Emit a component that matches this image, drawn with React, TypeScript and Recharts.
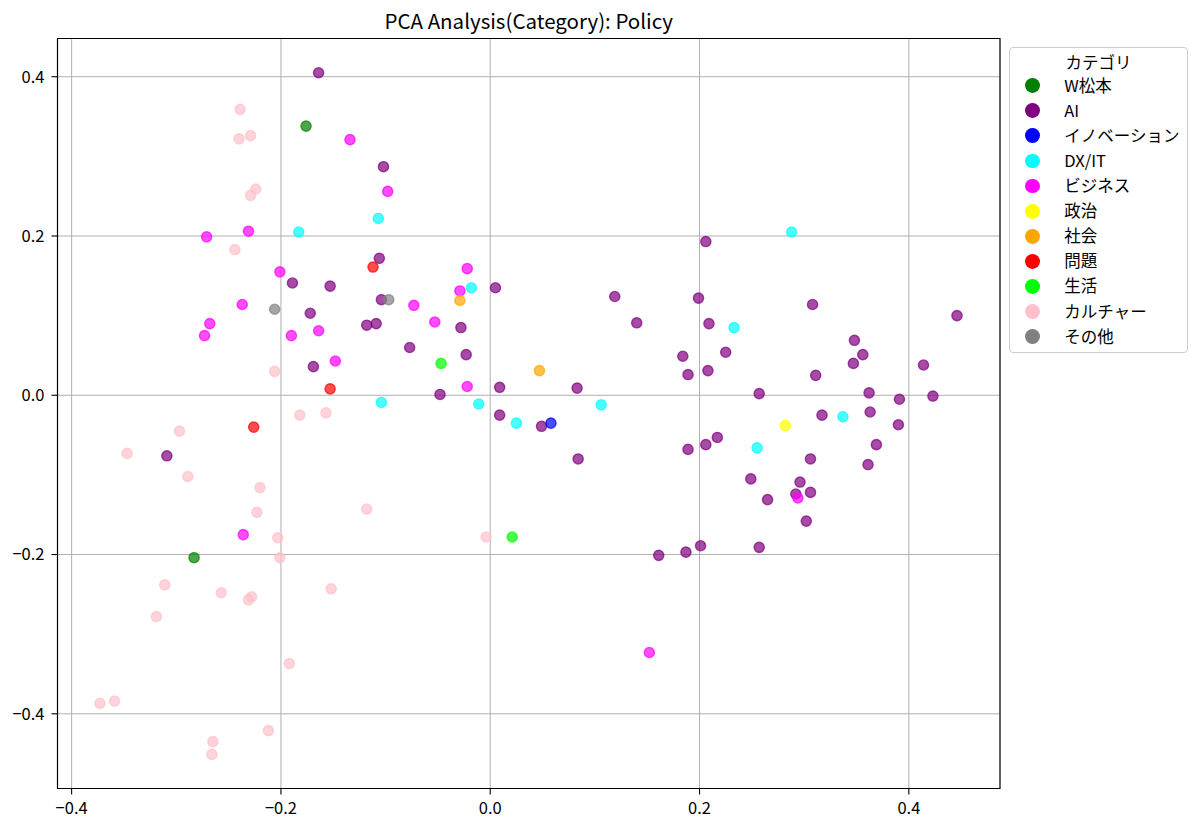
import React from "react";
import {
  ScatterChart,
  Scatter,
  XAxis,
  YAxis,
  CartesianGrid,
  ReferenceArea,
} from "recharts";

const FONT = '"Noto Sans CJK JP", "Noto Sans", sans-serif';

const categories = [
  "W松本",
  "AI",
  "イノベーション",
  "DX/IT",
  "ビジネス",
  "政治",
  "社会",
  "問題",
  "生活",
  "カルチャー",
  "その他",
];

const colors = [
  "#008000",
  "#800080",
  "#0000ff",
  "#00ffff",
  "#ff00ff",
  "#ffff00",
  "#ffa500",
  "#ff0000",
  "#00ff00",
  "#ffc0cb",
  "#808080",
];

const wMatsumoto: [number, number][] = [
  [-0.176, 0.338],
  [-0.283, -0.204],
];

const ai: [number, number][] = [
  [-0.164, 0.405], [-0.102, 0.287], [-0.106, 0.172], [-0.104, 0.12], [-0.109, 0.09],
  [-0.118, 0.088], [-0.153, 0.137], [-0.189, 0.141], [-0.172, 0.103], [-0.169, 0.036],
  [-0.077, 0.06], [-0.028, 0.085], [-0.023, 0.051], [-0.048, 0.001], [0.005, 0.135],
  [0.009, 0.01], [0.009, -0.025], [0.049, -0.039], [0.083, 0.009], [0.119, 0.124],
  [0.084, -0.08], [0.14, 0.091], [0.184, 0.049], [0.189, 0.026], [0.199, 0.122],
  [0.206, 0.193], [0.209, 0.09], [0.208, 0.031], [0.225, 0.054], [0.217, -0.053],
  [0.206, -0.062], [0.189, -0.068], [0.201, -0.189], [0.187, -0.197], [0.161, -0.201],
  [0.257, 0.002], [0.249, -0.105], [0.265, -0.131], [0.257, -0.191], [0.292, -0.124],
  [0.296, -0.109], [0.306, -0.122], [0.302, -0.158], [0.306, -0.08], [0.308, 0.114],
  [0.311, 0.025], [0.317, -0.025], [0.348, 0.069], [0.356, 0.051], [0.347, 0.04],
  [0.362, 0.003], [0.363, -0.021], [0.361, -0.087], [0.369, -0.062], [0.391, -0.005],
  [0.39, -0.037], [0.414, 0.038], [0.423, -0.001], [0.446, 0.1], [-0.309, -0.076],
];

const innovation: [number, number][] = [[0.058, -0.035]];

const dxit: [number, number][] = [
  [-0.107, 0.222], [-0.183, 0.205], [-0.018, 0.135], [-0.104, -0.009], [-0.011, -0.011],
  [0.025, -0.035], [0.106, -0.012], [0.233, 0.085], [0.288, 0.205], [0.255, -0.066],
  [0.337, -0.027],
];

const business: [number, number][] = [
  [-0.134, 0.321], [-0.098, 0.256], [-0.271, 0.199], [-0.231, 0.206], [-0.201, 0.155],
  [-0.022, 0.159], [-0.029, 0.131], [-0.237, 0.114], [-0.268, 0.09], [-0.273, 0.075],
  [-0.19, 0.075], [-0.164, 0.081], [-0.073, 0.113], [-0.053, 0.092], [-0.148, 0.043],
  [-0.022, 0.011], [-0.236, -0.175], [0.152, -0.323], [0.294, -0.129],
];

const politics: [number, number][] = [[0.282, -0.038]];

const society: [number, number][] = [
  [-0.029, 0.119],
  [0.047, 0.031],
];

const problems: [number, number][] = [
  [-0.112, 0.161],
  [-0.153, 0.008],
  [-0.226, -0.04],
];

const life: [number, number][] = [
  [-0.047, 0.04],
  [0.021, -0.178],
];

const culture: [number, number][] = [
  [-0.239, 0.359], [-0.24, 0.322], [-0.229, 0.326], [-0.224, 0.259], [-0.229, 0.251],
  [-0.244, 0.183], [-0.206, 0.03], [-0.182, -0.025], [-0.157, -0.022], [-0.297, -0.045],
  [-0.347, -0.073], [-0.289, -0.102], [-0.22, -0.116], [-0.223, -0.147], [-0.118, -0.143],
  [-0.203, -0.179], [-0.201, -0.204], [-0.004, -0.178], [-0.311, -0.238], [-0.257, -0.248],
  [-0.228, -0.253], [-0.231, -0.257], [-0.152, -0.243], [-0.319, -0.278], [-0.192, -0.337],
  [-0.373, -0.387], [-0.359, -0.384], [-0.212, -0.421], [-0.265, -0.435], [-0.266, -0.451],
];

const others: [number, number][] = [
  [-0.206, 0.108],
  [-0.097, 0.12],
];

const seriesPoints = [
  wMatsumoto, ai, innovation, dxit, business, politics, society, problems, life, culture, others,
];

const xDomain: [number, number] = [-0.4135, 0.4871];
const yDomain: [number, number] = [-0.4938, 0.448];
const xTicks = [-0.4, -0.2, 0.0, 0.2, 0.4];
const yTicks = [-0.4, -0.2, 0.0, 0.2, 0.4];

const fmt = (v: number) => {
  const s = Math.abs(v).toFixed(1);
  return v < -1e-9 ? "\u2212" + s : s;
};

const makeDot = (color: string) => (props: any) => {
  const { cx, cy } = props;
  if (cx == null || cy == null) return <g />;
  return (
    <circle
      cx={cx}
      cy={cy}
      r={5.1}
      fill={color}
      fillOpacity={0.7}
      stroke={color}
      strokeOpacity={0.7}
      strokeWidth={1.4}
    />
  );
};

const tickStyle = { fill: "#000", fontSize: 16.5, fontFamily: FONT };

export default function App() {
  const seriesData = seriesPoints.map((pts) => pts.map(([x, y]) => ({ x, y })));
  return (
    <div style={{ position: "relative", width: 1192, height: 813, fontFamily: FONT }}>
      <div
        style={{
          position: "absolute",
          left: 220.75,
          width: 600,
          top: 2.3,
          textAlign: "center",
          fontSize: 20.5,
          lineHeight: "20.5px",
          color: "#000",
          whiteSpace: "nowrap",
        }}
      >
        PCA Analysis(Category): Policy
      </div>
      <ScatterChart
        width={1192}
        height={813}
        margin={{ top: 30.5, right: 200, bottom: 0, left: 0 }}
      >
        <CartesianGrid stroke="#b0b0b0" strokeWidth={1} />
        <XAxis
          type="number"
          dataKey="x"
          domain={xDomain}
          allowDataOverflow
          ticks={xTicks}
          interval={0}
          tickFormatter={fmt}
          height={32.5}
          tickSize={6}
          tickMargin={8}
          axisLine={{ stroke: "#000", strokeWidth: 1.1 }}
          tickLine={{ stroke: "#000", strokeWidth: 1.1 }}
          tick={tickStyle}
        />
        <YAxis
          type="number"
          dataKey="y"
          domain={yDomain}
          allowDataOverflow
          ticks={yTicks}
          interval={0}
          tickFormatter={fmt}
          width={49.5}
          tickSize={6}
          tickMargin={7}
          axisLine={{ stroke: "#000", strokeWidth: 1.1 }}
          tickLine={{ stroke: "#000", strokeWidth: 1.1 }}
          tick={tickStyle}
        />
        <ReferenceArea
          x1={xDomain[0]}
          x2={xDomain[1]}
          y1={yDomain[0]}
          y2={yDomain[1]}
          fill="none"
          fillOpacity={0}
          stroke="#000"
          strokeWidth={1.1}
          ifOverflow="visible"
        />
        {seriesData.map((d, i) => (
          <Scatter
            key={categories[i]}
            name={categories[i]}
            data={d}
            fill={colors[i]}
            isAnimationActive={false}
            shape={makeDot(colors[i])}
          />
        ))}
      </ScatterChart>
      <div
        style={{
          position: "absolute",
          left: 1001.3,
          top: 39.3,
          width: 178.4,
          height: 305.4,
          boxSizing: "border-box",
          border: "1px solid #cccccc",
          borderRadius: 4,
          background: "rgba(255,255,255,0.8)",
          fontSize: 16.5,
          color: "#000",
        }}
      >
        <div
          style={{
            position: "absolute",
            left: 0,
            width: "100%",
            top: 14.4 - 1 - 11,
            height: 22,
            lineHeight: "22px",
            textAlign: "center",
            whiteSpace: "nowrap",
          }}
        >
          カテゴリ
        </div>
        {categories.map((c, i) => {
          const cy = 38.4 + i * 25.1 - 1;
          return (
            <React.Fragment key={c}>
              <div
                style={{
                  position: "absolute",
                  left: 23.4 - 1 - 7.4,
                  top: cy - 7.4,
                  width: 14.8,
                  height: 14.8,
                  borderRadius: "50%",
                  background: colors[i],
                }}
              />
              <div
                style={{
                  position: "absolute",
                  left: 55 - 1,
                  top: cy - 11 - 1,
                  height: 22,
                  lineHeight: "22px",
                  whiteSpace: "nowrap",
                }}
              >
                {c}
              </div>
            </React.Fragment>
          );
        })}
      </div>
    </div>
  );
}
